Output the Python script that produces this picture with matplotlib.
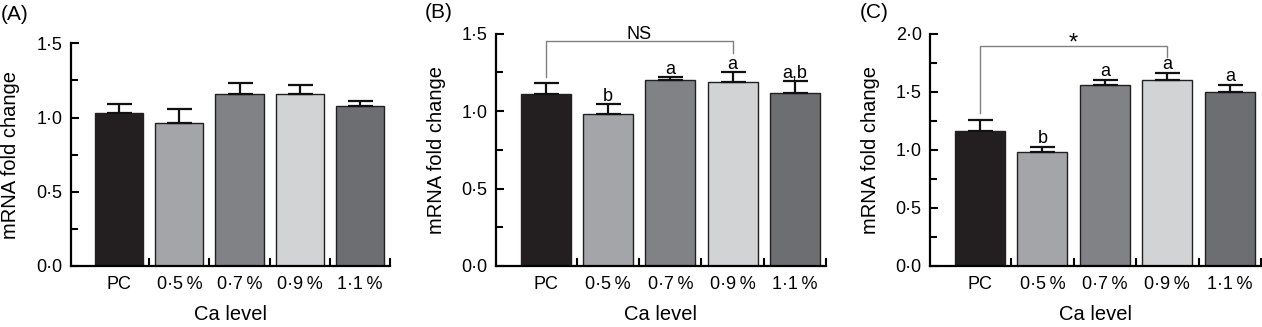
import matplotlib
matplotlib.use("Agg")
from matplotlib import pyplot as plt

plt.rcParams['font.family'] = ['Liberation Sans', 'DejaVu Sans']

categories = ["PC", "0·5\u2009%", "0·7\u2009%", "0·9\u2009%", "1·1\u2009%"]
bar_colors = ["#231f20", "#a3a5a8", "#808285", "#d1d3d4", "#6d6e71"]

# panel A
a_mean = [1.03, 0.96, 1.16, 1.16, 1.08]
a_err = [0.06, 0.10, 0.07, 0.06, 0.03]
a_letters = ["", "", "", "", ""]

# panel B
b_mean = [1.11, 0.98, 1.20, 1.19, 1.12]
b_err = [0.07, 0.065, 0.018, 0.06, 0.075]
b_letters = ["", "b", "a", "a", "a,b"]

# panel C
c_mean = [1.165, 0.985, 1.555, 1.605, 1.50]
c_err = [0.09, 0.04, 0.05, 0.06, 0.06]
c_letters = ["", "b", "a", "a", "a"]

W, H = 1262, 327
fig = plt.figure(figsize=(W / 100, H / 100), dpi=100)


def px_axes(left, right, top, bottom):
    return fig.add_axes([left / W, 1 - bottom / H, (right - left) / W, (bottom - top) / H])


panels = [
    dict(box=(71, 390, 43.3, 266), mean=a_mean, err=a_err, letters=a_letters,
         ymax=1.5, yticks=[0, 0.5, 1.0, 1.5], tag="(A)", tag_xy=(1, 15)),
    dict(box=(496, 826, 33.7, 266), mean=b_mean, err=b_err, letters=b_letters,
         ymax=1.5, yticks=[0, 0.5, 1.0, 1.5], tag="(B)", tag_xy=(425, 13),
         bracket=(1.451, 1.222, 1.373, "NS", 2, 13)),
    dict(box=(930, 1261, 33.7, 266), mean=c_mean, err=c_err, letters=c_letters,
         ymax=2.0, yticks=[0, 0.5, 1.0, 1.5, 2.0], tag="(C)", tag_xy=(860, 13),
         bracket=(1.897, 1.314, 1.796, "*", -3, 17)),
]

x = list(range(len(categories)))

for p in panels:
    left, right, top, bottom = p['box']
    ax = px_axes(left, right, top, bottom)
    ax.bar(x, p['mean'], width=0.8, color=bar_colors, edgecolor="#231f20", linewidth=1.0, zorder=2)
    ax.errorbar(x, p['mean'], yerr=[[0] * 5, p['err']], fmt='none', ecolor='#111111',
                elinewidth=1.6, capsize=9, capthick=1.6, zorder=3)
    for xi, m, e, lab in zip(x, p['mean'], p['err'], p['letters']):
        if lab:
            ax.annotate(lab, (xi, m + e), xytext=(0, 2.5), textcoords='offset points',
                        ha='center', va='baseline', fontsize=13)
    if 'bracket' in p:
        yb, yl, yr, txt, off, fs = p['bracket']
        ax.plot([0, 0, 3, 3], [yl, yb, yb, yr], color='#808080', linewidth=1.0, clip_on=False, zorder=4)
        ax.annotate(txt, (1.5, yb), xytext=(0, off), textcoords='offset points',
                    ha='center', va='baseline', fontsize=fs, annotation_clip=False)

    ax.set_xlim(-0.8, 4.5)
    ax.set_ylim(0, p['ymax'])
    ax.set_yticks(p['yticks'])
    ax.set_yticklabels([f"{v:.1f}".replace(".", "·") for v in p['yticks']])
    ax.set_yticks([v + 0.25 for v in p['yticks'][:-1]], minor=True)
    ax.set_xticks([i + 0.5 for i in x])
    ax.set_xticklabels([])
    ax.set_xticks(x, minor=True)
    ax.set_xticklabels(categories, minor=True)
    ax.tick_params(axis='x', which='major', direction='in', length=6, width=1.5)
    ax.tick_params(axis='x', which='minor', length=0, pad=7, labelsize=13)
    ax.tick_params(axis='y', which='both', direction='in', width=1.5, pad=6, labelsize=13)
    ax.tick_params(axis='y', which='major', length=6)
    ax.tick_params(axis='y', which='minor', length=5)
    for s in ('top', 'right'):
        ax.spines[s].set_visible(False)
    for s in ('left', 'bottom'):
        ax.spines[s].set_linewidth(1.6)

    ax.set_ylabel("mRNA fold change", fontsize=14.5)
    ax.yaxis.set_label_coords(-60 / (right - left), 0.5)
    ax.set_xlabel("Ca level", fontsize=14.5)
    ax.xaxis.set_label_coords(0.5, -49 / (bottom - top))
    ax.xaxis.label.set_va('center')
    ax.yaxis.label.set_va('center')

    fig.text(p['tag_xy'][0] / W, 1 - p['tag_xy'][1] / H, p['tag'], fontsize=15, ha='left', va='center')

fig.savefig("out.png", dpi=100)
